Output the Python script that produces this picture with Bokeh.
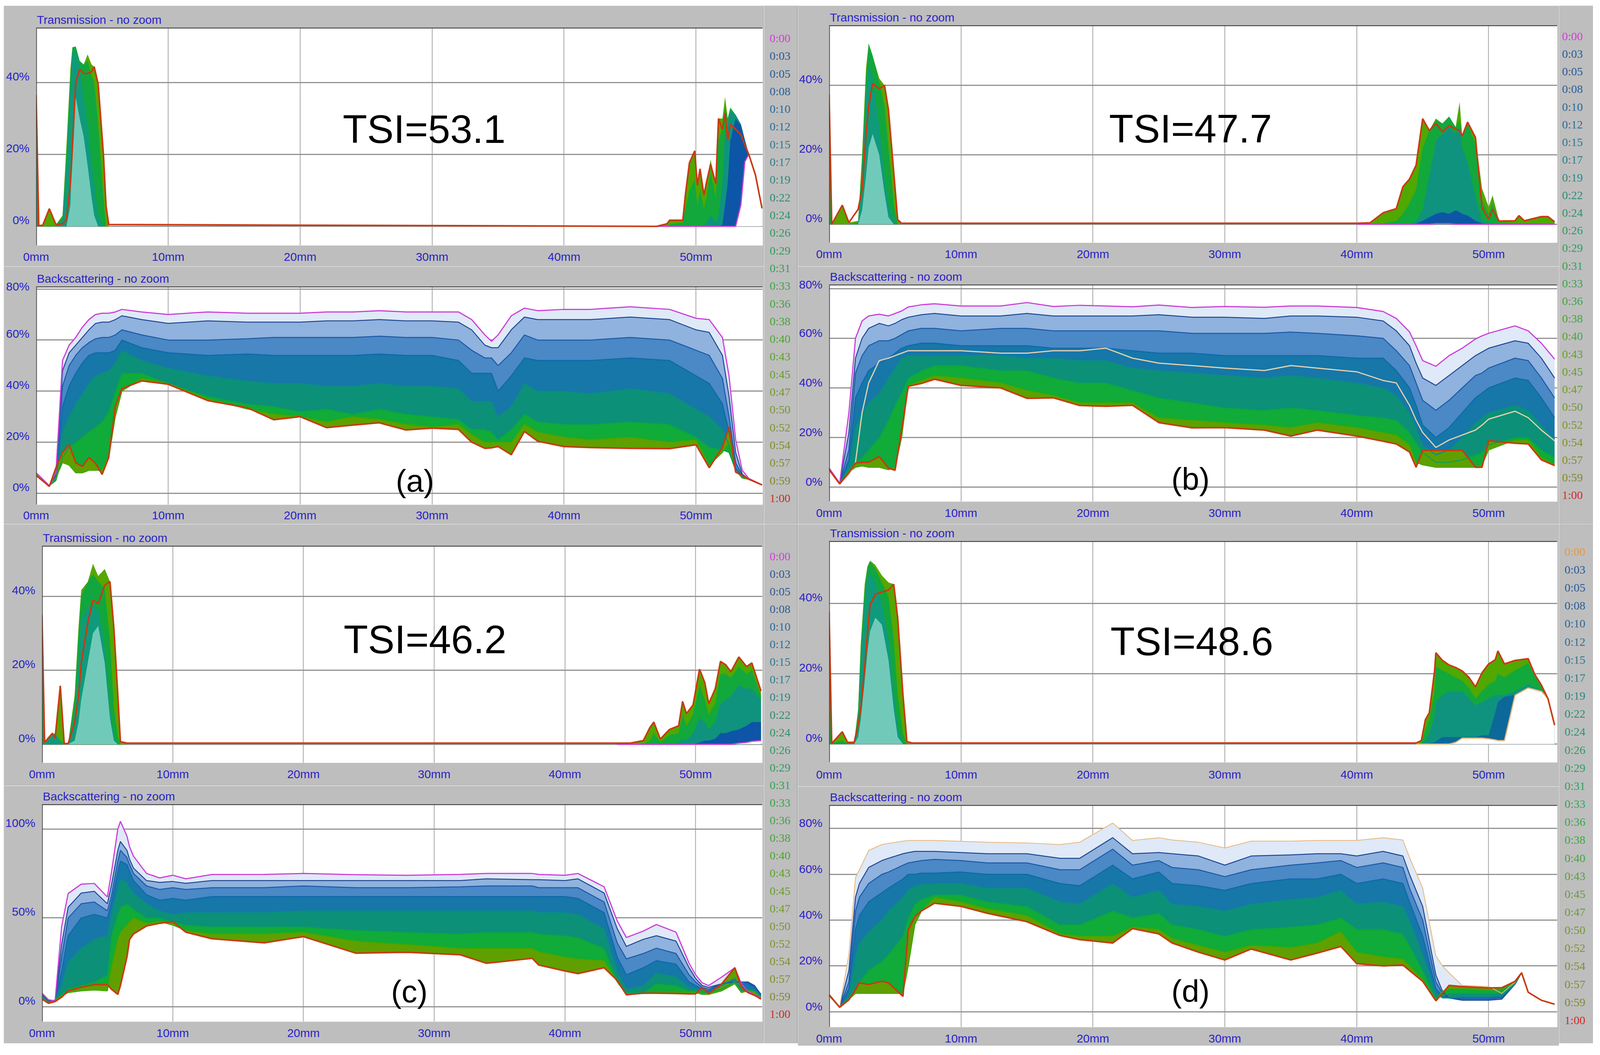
from bokeh.plotting import figure
from bokeh.layouts import row, column, Spacer
from bokeh.models import Span, Label, FixedTicker, Range1d, ColumnDataSource, Text
from bokeh.embed import file_html
from bokeh.resources import INLINE

times = ["0:00","0:03","0:05","0:08","0:10","0:12","0:15","0:17","0:19","0:22","0:24","0:26","0:29","0:31",
         "0:33","0:36","0:38","0:40","0:43","0:45","0:47","0:50","0:52","0:54","0:57","0:59","1:00"]
time_colors = ["#d23fd6","#2c5a96","#2c5c98","#2a6098","#2c6a9a","#2c7096","#2e7a92","#2e8088","#2e8880","#2e8c78",
               "#2e9470","#309a68","#309e60","#34a258","#3aa650","#3ea648","#44a640","#4ca63a","#5ca234","#689e34",
               "#709c34","#789834","#7c9632","#7e9230","#80902e","#828a2a","#d02c28"]
time_colors_d = ["#e09a4a"] + time_colors[1:]
xticks = [0,10,20,30,40,50]

# ---- (a) Backscattering
aB_x = [0,1,1.5,2,2.5,3,3.5,4,4.5,5,5.5,6,6.5,
        8,10,13,16,18,20,22,24,26,28,30,32,33,34,34.5,
        35,36,37,38,40,42,45,48,50,51,52,52.5,53,53.5,54,55]
aB_000 = [8,3,8,52,58,61,65,68,70,70.5,70.5,71,72,
          71,70,71,70.5,70.5,70.5,71,71,71.5,71,71,71,68,62,59.5,
          62,69.5,72.5,71.5,72,72,73,72,68.5,68,61,46,21,9,5.8,3.3]
aB_005 = [8,3,7,48,55,58,61,64,66.5,67,67,68,69.5,
          68,66.5,67.5,67,67,67,67.5,67.5,68,67.5,67.5,67,64,58,57,
          57,64,69,68,68,68,69,68,64,63,54,38,16,7.5,5.5,3.3]
aB_012 = [8,3,7,42,50,54,57,59,60.5,61,61,62,64,
          62,60,60,60.5,61,61,61,61,61.5,61,61,60,56,53,53,
          50,55,62,60,60,60,61,60,56,54,45,30,12,7,5.5,3.3]
aB_022 = [8,3,6,34,42,47,51,54,55,55,55,56,60,
          57,55,54,54.5,54,54,54,54,54.5,54,54,52,47,47,47,
          40,46,53,52,52,52,53,52,46,43,35,24,10,6.5,5.5,3.3]
aB_033 = [8,3,5.5,24,30,35,39,43,46,47,48,51,56,
          52,49,46,44,43,43,42,42,43,42,42,41,36,36,36,
          30,34,43,40,40,39,41,39,33,30,25,19,9,6,5.5,3.3]
aB_045 = [8,3,5,14,18,20,22,24,26,28,32,40,47,
          47,43,38,35,34,32,33,31,33,31,30,29,25,25,24,
          21,25,31,28,27,27,28,27,22,18,17,16,9,6,5.5,3.3]
aB_054 = [8,3,6,12,11,8,8,9,9,9,14,30,40,
          45,43,37,33,31,30,28,30,29,27,26,27,23,20,20,
          20,20,27,24,22,21,22,20,21,11,16,20,9,6,5.5,3.3]
aB_100 = [7,2.7,10,16,19,12,10.5,14,11.7,7.4,14,34,41,
          44,42.7,36.3,33.5,28.8,30,25.7,26.7,27.6,24.8,25.5,25,20,17.6,17.8,
          18.3,15.1,24.2,20.4,18.3,17.9,17.6,17.5,19,10,18,26,8.3,7,5.5,3.3]

# ---- (b) Backscattering
bB_x = [0,0.8,1.5,2,2.5,3,3.8,4.5,5,5.5,6,7,
        8,10,13,15,17,19,21,23,25,27.5,30,33,35,37,40,42,
        43,44,44.5,45,46,47,48,49,49.5,50,52,53,54,55]
bB_000 = [7.7,1.6,30,60,67,69,69.7,69,70,71,72.6,73.5,
          73.9,73,73,74.4,72.8,73.3,73,72.7,73.4,72.4,72.8,72.5,73,73,72.4,70.8,
          68,62.6,57,51,48.7,53,56,59.7,61,62,65,63,58,51.6]
bB_005 = [7.7,1.6,22,52,60,64,66,65,66,67.5,68.5,69.5,
          70,69,69,70,69,69,69,69,69.5,68.5,68.5,68,69,69,68.5,67,
          63,57,50,44,41,45,49,53,54.5,56,59,58,52,44]
bB_012 = [7.7,1.6,15,46,53,57,59,59,60,61.5,63,64,
          64,63,64,64,63,63,63,63,63,62,62,62,62.5,62,61,60,
          55,49,42,35,31,35,40,45,46,48,52,51,44,36]
bB_022 = [7.7,1.6,11,36,42,47,50,52,54,56,57,58,
          58,57,57,57,56,56,56,55,54,54,53,53,53,53,52,52,
          47,40,33,25,20,24,30,36,38,40,44,43,36,28]
bB_033 = [7,1.5,8,24,30,34,38,44,48,52,53,53,
          53,53,53,52,52,51,51,48,47,46,45,44,45,44,42,40,
          37,30,24,17,13,15,20,26,28,30,33,31,25,19]
bB_045 = [7,1.4,7,10,12,15,20,27,33,38,44,47,
          49,49,47,47,44,42,42,39,36,34,32,31,32,31,29,28,
          27,22,18,14,10,10,11,13,14,17,20,20,15,12]
bB_054 = [7,1.3,6,8,8.5,8,8,7,8,20,41,43,
          45,44,42,39,37,34,34,34,28,27,26,25,24,26,24,22,
          21,17,10,9,8,8,8,8,9,15,19,19,12,9]
bB_100 = [7,1.3,5.8,9.7,10,10,12.3,7.7,6.8,23,40.6,41.8,
          43.5,41,40,35.8,36,32.9,32.6,33,26,23.9,24,23,20.6,23,20.6,18.5,
          17.4,14.2,8,14.8,14.8,14.8,14.8,8,8,18.7,17.7,17.4,11,8.7]
bB_tan = [7,1.5,5,10,30,42,51,52,53,54,55,55,
          55,55,54,54,55,55,56,52,50,49,48,47,49,48,46.5,43,
          42,33,27,22,16,19,21,23,25,27.4,30.6,28,23,18.7]

# ---- (c) Backscattering
cB_x = [0,.5,1,1.5,2,3,4,5,5.3,5.8,6,6.5,6.7,7,8,9,
        10,11,13,17,20,24,28,32,34,37.5,38,40,41,43,
        44,44.7,46,47,48.5,49.5,50,50.5,51,52,53,53.5,54,54.5,55]
cB_000 = [7.7,4,3.4,45,63.7,69,69.4,61.8,75,100,104.3,96,90,84.7,75,72.5,
          74,72,74.4,74.5,75,74.3,74,74.5,75,75,74.5,74,75,67.5,
          48.4,39,42.6,46.3,42,24.5,18,13.5,12,16.8,22,13,8.7,7,4.9]
cB_005 = [7,3.5,3,35,56,64,65,58,68,88,93,88,83,78,71,70,
          70.5,69.5,71,71,71,71,71,71,72,71.5,71.5,71,72,64,
          44,34,38,40,37,22,16,12,11,13,14,14,14,12,7]
cB_012 = [7,3.3,3,28,50,58,59,54,62,82,88,84,80,75,68,66,
          67,66,67,67,68,67,67,67.5,68,68,67,67,67,59,
          36,27,30,33,30,18,14,11,10,13,14,14,13.5,11.5,7]
cB_022 = [7,3,3,20,40,50,52,50,58,76,82,80,76,71,63,60,
          61,60,62,62,62,62,62,62,62,62,62,62,61,53,
          28,18,22,26,24,14,12,10,9,13,15,13,13,11,6.5]
cB_033 = [6,2.5,3,12,25,33,38,40,52,66,72,70,67,64,58,54,
          52,53,53,53,54,54,54,54,54,54,53,53,52,44,
          20,10,12,19,17,11,10,9,8,12,16,9.5,9.5,8.5,5.5]
cB_045 = [5.5,2.5,3.5,7,10,12,14,18,40,52,56,58,57,55,50,50,
          48,46,45,45,45,43,42,41,42,42,41,40,39,33,
          15,8,8,13,12,9,9,8,8,10,14,9,9.5,9,6]
cB_054 = [5,2.3,4,6,8,9,9.5,9,22,38,42,46,48,50,47,48,
          46,43,41,41,42,37,35,33,33,33,31,28,27,26,
          14,7,7.5,8,8,8,8,7,7,9,13,8,9,8.5,5]
cB_100 = [4.4,2,3,5.4,9,11,12.5,12.5,10,7,12,28,37.9,41,45.5,47,
          47.9,42,38.3,36,39.5,30.2,30.7,29.3,24.5,27.3,23.5,20.2,18.7,22,
          14.9,6.8,7.7,7.7,7.5,7.3,7.3,11,7.5,13,22,11,8,6.5,4.4]

# ---- (d) Backscattering
dB_x = [0,.8,1.5,2,2.3,3,4,4.5,5.6,6,6.5,7,8,10,
        12,15,17.5,19,21.5,23,25,26,28,30,32,35,37,38.8,40,42,
        43.5,44,45,46,46.5,47,48,50,51,52,52.5,53,54,55]
dB_000 = [7.8,2.2,25,58.5,62,70.4,73,73.5,74.5,74.8,74.8,74.8,74.8,74.4,
          74,73.7,73,74,82.4,74.8,76,75,74,71.5,74.5,74.5,74.8,74.8,74.8,76,
          75,67.4,54,24.4,20,17,11.5,11,8,13,17,8.5,5,3.3]
dB_005 = [7.5,2.2,18,50,56,63,66,67,69,69.5,70,70,70,69.5,
          69,69,67,67,76,69,69.5,69,68,64,68,68.5,69,69,68,70,
          68,60,46,16,9,6,5,5,5.5,12,17,8.5,5,3.3]
dB_012 = [7.5,2,13,44,50,56,60,61,64,65,65.5,66,66.5,66,
          65,65,62,62,71,64,66,63,62,59,62,64,65,66,63,65,
          63,54,40,13,8,6,5.5,5.5,6,12,17,8.5,5,3.3]
dB_022 = [7.5,2,10,36,42,48,52,54,58,60,60,60.5,60.5,61,
          60,60,56,55,64,58,61,56,55,53,56,58,58,60,56,58,
          56,48,33,10,7,6,6,6,6.5,12,17,8.5,5,3.3]
dB_033 = [7,2,7,24,30,35,40,44,50,53,55,55.5,56,56,
          54,54,48,47,56,50,53,47,46,44,47,49,50,53,47,48,
          46,40,25,8,6,6,6.5,6.5,7,12,17,8.5,5,3.3]
dB_045 = [7,2,5.5,10,13,18,22,25,33,41,47,49,51,51,
          48,46,38,38,44,41,43,38,36,33,36,37,38,41,36,36,
          34,29,18,6,7,8,8,8,8,12.5,17,8.5,5,3.3]
dB_054 = [7,2,5.5,8,8,8,8,8,8,20,38,44,50,48,
          45,42,34,33,33,37,36,32,29,26,29,28,30,35,26,24,
          23,20,14,5,9,10,10,9.5,10,13,17,8.5,5,3.3]
dB_100 = [7.4,1.9,5.2,9.6,12.6,11.9,13.3,12.6,6.7,35.6,41.5,44,47.4,46,
          43,39.3,33.3,31.5,30,36.3,34,30,26,22.6,27.4,22.6,25.6,28.5,21,20,
          20.4,18,13.3,4.8,8,11.5,11,10.4,10.5,13.3,17,8.5,5,3.3]

# ---- Transmission, left hump (xl) and right hump (xr)
aT_xl = [0,.2,.5,1,1.5,2,2.3,2.6,2.75,3,3.3,3.6,3.9,4.2,4.4,4.7,5.1,5.3,5.5]
aT_l_env = [36,.2,.3,4.9,.5,3,22.6,44,49.8,50,46,45,47.8,45,44.4,39.6,20,5.6,.5]
aT_l_green = [36,.1,.1,.1,.1,2.5,20,42,49.8,50,46,45,46,42,40,28,8,0,0]
aT_l_teal = [36,0,0,0,0,2,16,38,48,49,44,36,28,18,12,3,0,0,0]
aT_l_pale = [0,0,0,0,0,0,0,6,24,36,30,25,17,8,3,0,0,0,0]
aT_l_red = [36.6,.2,.3,4.9,.5,.7,2,12,22,40,43.7,42.5,42.5,43,44.4,39.6,20,5.6,.5]
aT_xr = [47,47.8,48,49,49.2,49.5,49.9,50.1,50.3,50.6,50.8,51.1,51.5,51.7,52,52.2,52.4,52.6,53,53.4,53.7,54,54.5,55]
aT_r_env = [0,.7,1.7,1.7,9,17.7,21,11.4,16,8.7,12.4,18.5,11.9,30,30,36,30,33,31,28.4,24,20,14.3,5]
aT_r_green = [0,0,.5,1,5,10,13,6,10,5,8,15,8,24,27,33,30,33,31,28.4,24,20,14.3,5]
aT_r_teal = [0,0,0,0,0,0,0,0,0,0,1,3,1,3,12,26,28,32,31,28.4,24,20,14.3,5]
aT_r_blue = [0,0,0,0,0,0,0,0,0,0,0,0,0,0,.5,6,12,24,30,28,24,20,14.3,5]
aT_r_first = [0,0,0,0,0,0,0,0,0,0,0,0,0,0,0,0,0,0,0,6,18,20,14.3,5]
aT_r_red = [0,.7,1.7,1.7,9,17.7,21,11.4,16,8.7,12.4,17.2,11.9,30,27,31.5,24,28.4,27,25.5,22.6,20,14.3,5]

bT_xl = [0,.2,1,1.5,2.2,2.5,2.8,3,3.3,3.8,4.2,4.5,4.9,5.2,5.5]
bT_l_env = [37,0,5.5,.5,1,20,45,52,48.5,42,40,33,15,1.3,0]
bT_l_green = [37,0,0,0,.5,18,42,52,48.5,41,34,22,6,0,0]
bT_l_teal = [0,0,0,0,.5,14,36,46,42,28,14,6,1,0,0]
bT_l_pale = [0,0,0,0,0,4,14,22,26,20,9,2,0,0,0]
bT_l_red = [37.4,0,5.5,.5,4.3,10,26,34,40.5,39,40,33,15,1.3,.3]
bT_xr = [40,41,42,43,43.5,44,44.5,45,45.5,46,46.5,47,47.5,47.8,48,48.4,49,49.5,50,50.3,50.8,52,52.3,52.7,54,54.5,55]
bT_r_env = [.3,.4,3.3,4.5,10.8,13,17,30.4,27,30.4,29,31,28,35.2,25.4,29.4,25,10.3,5,8.3,.9,1,2.5,1,2.2,2.2,.7]
bT_r_green = [0,0,.3,1,3,6,10,22,27,30,29,31,28,30,25,29,23,7,3,6,.5,.3,.3,.3,.3,.3,.3]
bT_r_teal = [0,0,0,0,0,0,1,4,14,24,26,28,26,28,22,18,8,1,.5,.3,0,0,0,0,0,0,0]
bT_r_blue = [0,0,0,0,0,0,.2,1,2,3,3.5,3,4,3.5,3,2.5,1,.3,0,0,0,0,0,0,0,0,0]
bT_r_first = [0,0,0,0,0,0,0,0,0,.2,.2,.2,0,0,0,0,0,0,0,0,0,0,0,0,0,0,0]
bT_r_red = [.3,.4,3.3,4.5,10.8,13,17,30.4,27,29,26.6,28.4,27.4,27,25.4,29.4,25,4.8,1.5,4.3,.9,1,2.5,1,2.2,2.2,.7]

cT_xl = [0,.2,.8,1,1.4,1.7,2,2.5,2.8,3,3.5,3.9,4.3,4.8,5.2,5.5,5.8,6,6.5]
cT_l_env = [35,.5,3,1.6,15.8,.2,.2,13.4,32,41.7,43.9,48.8,45.5,47.4,44,31.4,13.4,.7,.3]
cT_l_green = [35,.3,2,1,1,.2,.2,12,30,40,43.9,46,44,42,28,10,2,0,0]
cT_l_teal = [0,.3,2.5,3,1,0,0,8,22,34,37,38,36,26,10,2,0,0,0]
cT_l_pale = [0,0,0,0,0,0,0,1,6,12,22,30,32,22,7,1,0,0,0]
cT_l_red = [35,.5,3,1.6,15.8,.2,.2,5.9,13,22,32.8,39,38,43,44,31.4,13.4,.7,.3]
cT_xr = [44,45,46,46.5,46.8,47.3,48,48.7,49,49.3,49.8,50.3,50.7,51,51.5,51.9,52.3,52.7,53.3,53.9,54.3,55]
cT_r_env = [.3,.3,1,4.5,6,1.4,4,5,11.6,8.3,10.6,20.3,16.7,11,15,22.4,21.5,19.6,23.6,21,22,14.4]
cT_r_green = [0,0,0,1,3,.5,2.5,3,8,5,8,16,12,8,11,19,19,18,21,19,20,13]
cT_r_teal = [0,0,0,0,0,0,0,.5,1.5,1,3,7,6,4,6,11,12,13,16,15,15,12]
cT_r_blue = [0,0,0,0,0,0,0,0,0,0,0,.5,1,1,1.5,3,3,3.5,4,5,6,6]
cT_r_first = [0,0,0,0,0,0,0,0,0,0,0,0,0,0,0,0,0,0,.3,.5,.8,1]
cT_r_red = [.3,.3,1,4.5,6,1.4,4,5,11.6,8.3,10.6,20.3,16.7,11,15,22.4,21.5,19.6,23.6,21,22,14.4]

dT_xl = [0,.2,1,1.4,1.9,2.2,2.4,2.7,2.9,3.1,3.5,4,4.5,4.9,5.2,5.6,5.9,6.3]
dT_l_env = [37.6,.2,3.5,.5,.5,10,28.7,45.5,50.5,52.2,51,48,46,45.5,36,14,.7,.3]
dT_l_green = [37,.2,1,.3,.5,9,27,44,50,52,50,46,42,30,14,3,0,0]
dT_l_teal = [0,0,0,0,.4,7,24,40,47,49,46,40,30,15,5,0,0,0]
dT_l_pale = [0,0,0,0,0,2,7,18,26,32,36,34,24,10,2,0,0,0]
dT_l_red = [37.6,.2,3.5,.5,.5,5.4,10,22,31,39.6,42.6,43.3,43.8,45.5,36,14,.7,.3]
dT_xr = [44.5,44.9,45.2,45.5,45.9,46,46.5,47,47.5,48,48.5,49,49.5,50,50.5,50.7,51.2,52,53,53.5,54,54.5,55]
dT_r_env = [.3,1,6.9,8.9,20.8,26,23.8,22.5,21.8,20.8,19,16.3,20.3,22.8,24,26.5,22.8,23.8,24.3,19.8,16.8,12.9,5.4]
dT_r_green = [0,.3,4,7,15,22,21,20,19,18,16,13,15,17,18,20,19,21,23,19.8,16.8,12.9,5.4]
dT_r_teal = [0,0,1,3,8,12,14,15,15,15,13,11,12,13,14,14,14,15,17,16,15.5,12.9,5.4]
dT_r_blue = [0,0,0,.2,.5,.8,2,2,2,2,2,2,2.5,2.5,9,12,13.5,14,16,15.5,15,12.9,5.4]
dT_r_first = [0,0,0,0,0,0,0,0,.5,1.7,1.7,1.7,1.7,1.5,1.2,1,1,13.9,16,15.5,15,12.9,5.4]
dT_r_red = [.3,1,6.9,8.9,20.8,26,23.8,22.5,21.8,20.8,19,16.3,20.3,22.8,24,26.5,22.8,23.8,24.3,19.8,16.8,12.9,5.4]

FONT = "Liberation Sans"
FS = "30px"
BLUE = "#2a22c8"
GREY = "#bebebe"
MAG = "#cc3fd8"
TAN = "#e6b67c"
RED = "#c93a12"
LINE_COLORS = [None, "#1e4792", "#1b58a6", "#0e68a8", "#0b8a8c", "#0a9f58", "#3ca800", RED]
BAND_COLORS = ["#dfe9f7", "#8fb2de", "#4a88c6", "#1677a8", "#0c9078", "#10ab38", "#5fa000"]

def base(title, width, height, left, right, top, bottom, xmax, y0, y1, yticks, label_up, tick_gap):
    p = figure(frame_width=right-left, frame_height=bottom-top, frame_align=False,
               min_border_left=left, min_border_right=width-right, min_border_top=top, min_border_bottom=height-bottom,
               x_range=Range1d(0, xmax), y_range=Range1d(y0, y1), output_backend="svg", toolbar_location=None,
               background_fill_color="white", border_fill_color=GREY, outline_line_color=None)
    p.title.text = title
    p.title.text_font = FONT
    p.title.text_font_size = FS
    p.title.text_font_style = "normal"
    p.title.text_color = BLUE
    p.title.offset = 2
    p.title.standoff = 8
    p.xaxis.ticker = FixedTicker(ticks=xticks)
    p.xaxis.major_label_overrides = {t: f"{t}mm" for t in xticks}
    p.xaxis.axis_line_color = None
    p.xaxis.major_tick_line_color = None
    p.xaxis.minor_tick_line_color = None
    p.xaxis.major_label_text_color = BLUE
    p.xaxis.major_label_text_font = FONT
    p.xaxis.major_label_text_font_size = FS
    p.xaxis.major_label_standoff = tick_gap
    # tick labels sit just above their grid lines in the instrument's display
    px_per_unit = (bottom - top) / (y1 - y0)
    places = [min(t + label_up / px_per_unit, y1 - 0.001) for t in yticks]
    p.yaxis.ticker = FixedTicker(ticks=places)
    p.yaxis.major_label_overrides = {v: f"{t}%" for v, t in zip(places, yticks)}
    p.yaxis.axis_line_color = None
    p.yaxis.major_tick_line_color = None
    p.yaxis.minor_tick_line_color = None
    p.yaxis.major_label_text_color = BLUE
    p.yaxis.major_label_text_font = FONT
    p.yaxis.major_label_text_font_size = FS
    p.yaxis.major_label_standoff = 11
    p.xgrid.ticker = FixedTicker(ticks=xticks[1:])
    p.ygrid.ticker = FixedTicker(ticks=yticks)
    p.xgrid.grid_line_color = "#a4a4a4"
    p.xgrid.grid_line_width = 2
    p.ygrid.grid_line_color = "#939393"
    p.ygrid.grid_line_width = 3
    p.add_layout(Span(location=y1, dimension="width", line_color="#454545", line_width=5))
    p.add_layout(Span(location=0, dimension="height", line_color="#454545", line_width=4))
    return p

def draw_b(p, x, curves, first_color, extra=None):
    for i in range(len(curves)-1):
        p.varea(x, curves[i], curves[i+1], fill_color=BAND_COLORS[i], fill_alpha=1.0)
    for i in range(1, len(curves)-1):
        p.line(x, curves[i], line_color=LINE_COLORS[i], line_width=2.5)
    if extra is not None:
        p.line(x, extra, line_color="#e6d2ae", line_width=3)
    p.line(x, curves[0], line_color=first_color, line_width=3 if first_color == MAG else 2)
    p.line(x, curves[-1], line_color=RED, line_width=4)

def draw_t(p, xl, left, xr, right, first_color, blue_alpha=1):
    lz, rz = [0]*len(xl), [0]*len(xr)
    for ys, c, a in zip(left[:4], ["#56a700", "#12a63e", "#0f9a7c", "#a6e4da"], [1, 1, 1, .65]):
        p.varea(xl, lz, ys, fill_color=c, fill_alpha=a)
    for ys, c, a in zip(right[:4], ["#50a800", "#12a83c", "#0f8f8a", "#0d55a6"], [1, 1, .85, blue_alpha]):
        p.varea(xr, rz, ys, fill_color=c, fill_alpha=a)
    # nothing has been drawn yet below the earliest profile
    p.varea(xr, rz, right[4], fill_color="white")
    p.line(xr, right[4], line_color=first_color, line_width=3)
    p.line(xl + xr, left[4] + right[5], line_color=RED, line_width=4)

def legend(width, height, xc, y_top_idx, y_bot_idx, colors, rule=True):
    p = figure(frame_width=width, frame_height=height, min_border=0, frame_align=False, x_range=Range1d(0, 1),
               y_range=Range1d(y_bot_idx, y_top_idx), x_axis_type=None, y_axis_type=None, output_backend="svg",
               toolbar_location=None, background_fill_color=GREY, border_fill_color=GREY, outline_line_color=None)
    p.grid.visible = False
    src = ColumnDataSource(dict(x=[xc]*len(times), y=list(range(len(times))), t=times, c=colors))
    p.add_glyph(src, Text(x="x", y="y", text="t", text_color="c", text_font=FONT, text_font_size=FS,
                          text_align="center", text_baseline="middle"))
    if rule:
        p.add_layout(Span(location=1, dimension="height", line_color="#9a9a9a", line_width=4))
    return p

def big(p, x, y, text, size):
    p.add_layout(Label(x=x, y=y, text=text, text_align="center", text_baseline="middle", text_color="black",
                       text_font=FONT, text_font_size=size))

T = "Transmission - no zoom"
B = "Backscattering - no zoom"

aT = base(T, 1947, 668, 83, 1943, 56, 614, 55.05, -5.3, 55.3, [0,20,40], 16, 6)
draw_t(aT, aT_xl, [aT_l_env, aT_l_green, aT_l_teal, aT_l_pale, aT_l_red], aT_xr,
       [aT_r_env, aT_r_green, aT_r_teal, aT_r_blue, aT_r_first, aT_r_red], MAG)
big(aT, 29.4, 27, "TSI=53.1", "102px")

aB = base(B, 1947, 660, 83, 1943, 51, 610, 55.05, -4.45, 81, [0,20,40,60,80], 16, 4)
draw_b(aB, aB_x, [aB_000, aB_005, aB_012, aB_022, aB_033, aB_045, aB_054, aB_100], MAG)
big(aB, 28.7, 4.9, "(a)", "80px")

cT = base(T, 1947, 670, 98, 1942, 55, 611, 55.1, -5, 53.7, [0,20,40], 16, 6)
draw_t(cT, cT_xl, [cT_l_env, cT_l_green, cT_l_teal, cT_l_pale, cT_l_red], cT_xr,
       [cT_r_env, cT_r_green, cT_r_teal, cT_r_blue, cT_r_first, cT_r_red], MAG)
big(cT, 29.3, 28.3, "TSI=46.2", "102px")

cB = base(B, 1947, 660, 98, 1942, 47, 604, 55.1, -8.3, 114, [0,50,100], 16, 6)
draw_b(cB, cB_x, [cB_000, cB_005, cB_012, cB_022, cB_033, cB_045, cB_054, cB_100], MAG)
big(cB, 28.1, 8.6, "(c)", "80px")

bT = base(T, 1948, 668, 79, 1943, 50, 607, 55.2, -5.3, 57.3, [0,20,40], 16, 6)
draw_t(bT, bT_xl, [bT_l_env, bT_l_green, bT_l_teal, bT_l_pale, bT_l_red], bT_xr,
       [bT_r_env, bT_r_green, bT_r_teal, bT_r_blue, bT_r_first, bT_r_red], MAG)
big(bT, 27.4, 27.5, "TSI=47.7", "102px")

bB = base(B, 1948, 660, 79, 1943, 46, 602, 55.2, -5.8, 81.7, [0,20,40,60,80], 14, 6)
draw_b(bB, bB_x, [bB_000, bB_005, bB_012, bB_022, bB_033, bB_045, bB_054, bB_100], MAG, extra=bB_tan)
big(bB, 27.4, 3.3, "(b)", "80px")

dT = base(T, 1948, 670, 79, 1943, 41, 608, 55.2, -5.2, 57.8, [0,20,40], 16, 8)
draw_t(dT, dT_xl, [dT_l_env, dT_l_green, dT_l_teal, dT_l_pale, dT_l_red], dT_xr,
       [dT_r_env, dT_r_green, dT_r_teal, dT_r_blue, dT_r_first, dT_r_red], TAN, blue_alpha=.7)
big(dT, 27.5, 29.2, "TSI=48.6", "102px")

dB = base(B, 1948, 660, 79, 1943, 47, 616, 55.2, -6.7, 90.3, [0,20,40,60,80], 14, 6)
draw_b(dB, dB_x, [dB_000, dB_005, dB_012, dB_022, dB_033, dB_045, dB_054, dB_100], TAN)
big(dB, 27.4, 8.9, "(d)", "80px")

legA = legend(86, 1328, 0.47, -1.83, 27.48, time_colors)
legC = legend(86, 1330, 0.47, -1.81, 27.68, time_colors)
legB = legend(87, 1328, 0.39, -1.72, 27.65, time_colors, rule=False)
legD = legend(87, 1330, 0.465, -1.51, 27.3, time_colors_d, rule=False)

page = column(Spacer(height=14),
              row(Spacer(width=9), column(aT, aB, cT, cB), column(legA, legC), column(bT, bB, dT, dB), column(legB, legD)))
open("out.html", "w").write(file_html(page, INLINE))
